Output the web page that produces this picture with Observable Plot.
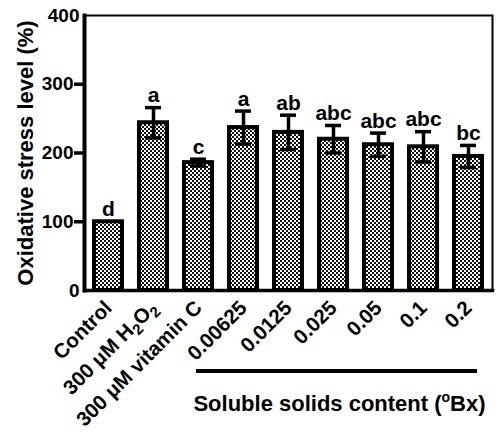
<!DOCTYPE html>
<html><head><meta charset="utf-8">
<script src="https://cdn.jsdelivr.net/npm/d3@7"></script>
<script src="https://cdn.jsdelivr.net/npm/@observablehq/plot@0.6"></script>
<style>body{margin:0;background:#fff;}</style>
</head><body><div id="chart"></div>
<script>
const categories = ["Control","300 μM H2O2","300 μM vitamin C","0.00625","0.0125","0.025","0.05","0.1","0.2"];
const means = [100,244,186,237,230,220,212,209,195];
const errors = [0,22,5,24,25,20,17,22,16];
const letters = ["d","a","c","a","ab","abc","abc","abc","bc"];
const yTicks = [0,100,200,300,400];
const yTitle = "Oxidative stress level (%)";
const groupCategories = ["0.00625","0.2"];
const groupTitleParts = ["Soluble solids content (", "o", "Bx)"];

const data = categories.map((c,i)=>({c, m:means[i], e:errors[i], l:letters[i], lo:means[i]-errors[i], hi:means[i]+errors[i]}));
const withErr = data.filter(d=>d.e>0);
const innerTicks = yTicks.slice(1, -1);
const endTicks = [yTicks[0], yTicks[yTicks.length-1]];
const FONT = "Liberation Sans, Arial, Helvetica, sans-serif";

const plot = Plot.plot({
  width: 496, height: 433,
  marginLeft: 84, marginRight: 4, marginTop: 15, marginBottom: 143,
  style: {fontFamily: FONT, fontSize: "20px", background: "white", color: "black"},
  x: {domain: categories, paddingInner: 0.38, paddingOuter: 0.19},
  y: {domain: [0,400]},
  marks: [
    Plot.barY(data, {x:"c", y:"m", fill:"url(#chk)", stroke:"black", strokeWidth:4}),
    Plot.ruleX(withErr, {x:"c", y1:"lo", y2:"hi", stroke:"black", strokeWidth:3.5}),
    Plot.tickY(withErr, {x:"c", y:"hi", stroke:"black", strokeWidth:3.5, insetLeft:6, insetRight:6}),
    Plot.tickY(withErr, {x:"c", y:"lo", stroke:"black", strokeWidth:3.5, insetLeft:6, insetRight:6}),
    Plot.text(data, {x:"c", y:"hi", text:"l", dy:-12, fontSize:21, fontWeight:"bold", fill:"black"}),
    Plot.frame({stroke:"black", strokeWidth:2}),
    Plot.frame({anchor:"left", stroke:"black", strokeWidth:4}),
    Plot.frame({anchor:"bottom", stroke:"black", strokeWidth:3.5}),
    Plot.axisY({ticks: innerTicks, tickSize: 10, tickPadding: 1, strokeWidth: 3.5, fontSize: 19, fontWeight: "bold", label: null}),
    Plot.axisY({ticks: endTicks, tickSize: 0, tickPadding: 5, fontSize: 19, fontWeight: "bold", label: null}),
    Plot.axisX({tickSize: 0, tickRotate: -45, tickPadding: 14, fontSize: 20.5, fontWeight: "bold", label: null}),
    Plot.text([yTitle], {frameAnchor:"left", textAnchor:"middle", rotate:-90, dx:-59, fontSize:22, fontWeight:"bold", fill:"black"})
  ]
});

const svg = d3.select(plot);
const pat = svg.insert("defs", ":first-child").append("pattern")
  .attr("id","chk").attr("patternUnits","userSpaceOnUse").attr("width",4).attr("height",4);
pat.append("rect").attr("width",4).attr("height",4).attr("fill","white");
pat.append("rect").attr("width",2).attr("height",2).attr("fill","#111");
pat.append("rect").attr("x",2).attr("y",2).attr("width",2).attr("height",2).attr("fill","#111");

// subscripts in H2O2 label
svg.selectAll("text").filter(function(){return this.textContent === "300 μM H2O2";}).each(function(){
  const t = d3.select(this); t.text("");
  t.append("tspan").text("300 μM H");
  t.append("tspan").attr("dy", 5).attr("font-size", 15).text("2");
  t.append("tspan").attr("dy", -5).text("O");
  t.append("tspan").attr("dy", 5).attr("font-size", 15).text("2");
});

// group annotation under the concentration categories
const xs = plot.scale("x");
const bw = xs.bandwidth;
const gx1 = xs.apply(groupCategories[0]) - 33;
const gx2 = xs.apply(groupCategories[1]) + bw - 5;
const ann = svg.append("g");
ann.append("line").attr("x1", gx1).attr("x2", gx2).attr("y1", 371).attr("y2", 371)
  .attr("stroke","black").attr("stroke-width",4);
const gt = ann.append("text").attr("x", (gx1+gx2)/2 + 3).attr("y", 411).attr("text-anchor","middle")
  .attr("font-size", 22).attr("font-weight","bold").attr("font-family", FONT).attr("fill","black");
gt.append("tspan").text(groupTitleParts[0]);
gt.append("tspan").attr("dy", -9).attr("font-size", 14).text(groupTitleParts[1]);
gt.append("tspan").attr("dy", 9).text(groupTitleParts[2]);

document.getElementById("chart").appendChild(plot);
</script></body></html>
